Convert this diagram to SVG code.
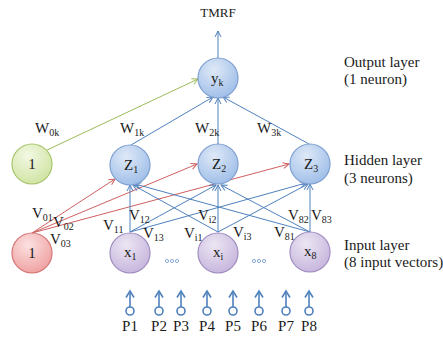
<svg xmlns="http://www.w3.org/2000/svg" width="443" height="341" viewBox="0 0 443 341" font-family="'Liberation Serif','Times New Roman','DejaVu Serif',serif">
<defs>
<radialGradient id="gb" cx="0.4" cy="0.3" r="0.75"><stop offset="0" stop-color="#dfe9f7"/><stop offset="1" stop-color="#9dbde8"/></radialGradient>
<radialGradient id="gg" cx="0.4" cy="0.3" r="0.75"><stop offset="0" stop-color="#f2f8e4"/><stop offset="1" stop-color="#cfe3a0"/></radialGradient>
<radialGradient id="gr" cx="0.4" cy="0.3" r="0.75"><stop offset="0" stop-color="#fbe1e1"/><stop offset="1" stop-color="#ef9f9f"/></radialGradient>
<radialGradient id="gp" cx="0.4" cy="0.3" r="0.75"><stop offset="0" stop-color="#ece6f3"/><stop offset="1" stop-color="#c5b4dc"/></radialGradient>
<marker id="ab" markerWidth="8" markerHeight="8" refX="7" refY="4" orient="auto" markerUnits="userSpaceOnUse"><path d="M1,1 L7,4 L1,7" fill="none" stroke="#4f81bd" stroke-width="1"/></marker>
<marker id="ar" markerWidth="8" markerHeight="8" refX="7" refY="4" orient="auto" markerUnits="userSpaceOnUse"><path d="M1,1 L7,4 L1,7" fill="none" stroke="#d06060" stroke-width="1"/></marker>
<marker id="ag" markerWidth="8" markerHeight="8" refX="7" refY="4" orient="auto" markerUnits="userSpaceOnUse"><path d="M1,1 L7,4 L1,7" fill="none" stroke="#9bbb59" stroke-width="1"/></marker>
<marker id="ap" markerWidth="10" markerHeight="10" refX="8" refY="5" orient="auto" markerUnits="userSpaceOnUse"><path d="M1.5,1 L8,5 L1.5,9" fill="none" stroke="#4f81bd" stroke-width="1.6"/></marker>
</defs>
<style>
text{font-family:"Liberation Serif","Times New Roman","DejaVu Serif",serif;fill:#1a1a1a}
.t{font-size:15px}
.s{font-size:10px}
.c{text-anchor:middle}
.nb{fill:url(#gb);stroke:#7f9fd0;stroke-width:1.2}
.ng{fill:url(#gg);stroke:#a8c46c;stroke-width:1.2}
.nr{fill:url(#gr);stroke:#d47575;stroke-width:1.2}
.np{fill:url(#gp);stroke:#a08cc0;stroke-width:1.2}
.lb{stroke:#4f81bd;stroke-width:1;fill:none;marker-end:url(#ab)}
.lr{stroke:#d06060;stroke-width:1;fill:none;marker-end:url(#ar)}
.lg{stroke:#9bbb59;stroke-width:1;fill:none;marker-end:url(#ag)}
.pin{stroke:#4f81bd;stroke-width:1.6;fill:none;marker-end:url(#ap)}
.pc{fill:#fff;stroke:#4f81bd;stroke-width:1.6}
</style>
<g id="connectors">
<line class="lb" x1="218" y1="58" x2="218" y2="31"/>
<line class="lg" x1="47" y1="150" x2="198" y2="79"/>
<line class="lb" x1="131" y1="145" x2="213" y2="97"/>
<line class="lb" x1="218" y1="145" x2="218" y2="98"/>
<line class="lb" x1="309" y1="144" x2="223" y2="97"/>
<line class="lr" x1="32" y1="233" x2="115" y2="179"/>
<line class="lr" x1="32" y1="233" x2="197" y2="164"/>
<line class="lr" x1="32" y1="233" x2="289" y2="164"/>
<line class="lb" x1="130" y1="232" x2="130" y2="185"/>
<line class="lb" x1="130" y1="232" x2="216" y2="185"/>
<line class="lb" x1="130" y1="232" x2="306" y2="183"/>
<line class="lb" x1="218" y1="232" x2="133" y2="185"/>
<line class="lb" x1="218" y1="232" x2="218" y2="185"/>
<line class="lb" x1="218" y1="232" x2="308" y2="184"/>
<line class="lb" x1="310" y1="232" x2="135" y2="184"/>
<line class="lb" x1="310" y1="232" x2="221" y2="185"/>
<line class="lb" x1="310" y1="232" x2="310" y2="184"/>
</g>
<g id="inputs-P">
<g id="P1"><line class="pin" x1="130" y1="307" x2="130" y2="291"/><circle class="pc" cx="130" cy="311" r="4"/><text class="t c" x="130" y="331">P1</text></g>
<g id="P2"><line class="pin" x1="159" y1="307" x2="159" y2="291"/><circle class="pc" cx="159" cy="311" r="4"/><text class="t c" x="159" y="331">P2</text></g>
<g id="P3"><line class="pin" x1="181" y1="307" x2="181" y2="291"/><circle class="pc" cx="181" cy="311" r="4"/><text class="t c" x="181" y="331">P3</text></g>
<g id="P4"><line class="pin" x1="207" y1="307" x2="207" y2="291"/><circle class="pc" cx="207" cy="311" r="4"/><text class="t c" x="207" y="331">P4</text></g>
<g id="P5"><line class="pin" x1="233" y1="307" x2="233" y2="291"/><circle class="pc" cx="233" cy="311" r="4"/><text class="t c" x="233" y="331">P5</text></g>
<g id="P6"><line class="pin" x1="259" y1="307" x2="259" y2="291"/><circle class="pc" cx="259" cy="311" r="4"/><text class="t c" x="259" y="331">P6</text></g>
<g id="P7"><line class="pin" x1="286" y1="307" x2="286" y2="291"/><circle class="pc" cx="286" cy="311" r="4"/><text class="t c" x="286" y="331">P7</text></g>
<g id="P8"><line class="pin" x1="309" y1="307" x2="309" y2="291"/><circle class="pc" cx="309" cy="311" r="4"/><text class="t c" x="309" y="331">P8</text></g>
</g>
<g id="yk"><circle class="nb" cx="218" cy="78" r="20"/><text class="t" x="211" y="83">y<tspan class="s" dy="3">k</tspan></text></g>
<g id="bias-hidden"><circle class="ng" cx="32" cy="164" r="20"/><text class="t c" x="32" y="169">1</text></g>
<g id="Z1"><circle class="nb" cx="130" cy="165" r="20"/><text class="t" x="124" y="170">Z<tspan class="s" dy="3">1</tspan></text></g>
<g id="Z2"><circle class="nb" cx="218" cy="164" r="20"/><text class="t" x="212" y="169">Z<tspan class="s" dy="3">2</tspan></text></g>
<g id="Z3"><circle class="nb" cx="310" cy="164" r="20"/><text class="t" x="304" y="169">Z<tspan class="s" dy="3">3</tspan></text></g>
<g id="bias-input"><circle class="nr" cx="32" cy="253" r="20"/><text class="t c" x="32" y="258">1</text></g>
<g id="x1"><circle class="np" cx="130" cy="253" r="20"/><text class="t" x="124" y="257">x<tspan class="s" dy="3">1</tspan></text></g>
<g id="xi"><circle class="np" cx="218" cy="253" r="20"/><text class="t" x="213" y="257">x<tspan class="s" dy="3">i</tspan></text></g>
<g id="x8"><circle class="np" cx="310" cy="252" r="20"/><text class="t" x="304" y="256">x<tspan class="s" dy="3">8</tspan></text></g>
<g id="dots">
<circle cx="167" cy="261" r="1.6" fill="none" stroke="#7f9fd0" stroke-width="0.9"/><circle cx="172" cy="261" r="1.6" fill="none" stroke="#7f9fd0" stroke-width="0.9"/><circle cx="177" cy="261" r="1.6" fill="none" stroke="#7f9fd0" stroke-width="0.9"/>
<circle cx="254" cy="261" r="1.6" fill="none" stroke="#7f9fd0" stroke-width="0.9"/><circle cx="259" cy="261" r="1.6" fill="none" stroke="#7f9fd0" stroke-width="0.9"/><circle cx="264" cy="261" r="1.6" fill="none" stroke="#7f9fd0" stroke-width="0.9"/>
</g>
<g id="labels">
<text class="c" style="font-size:13px" x="218" y="17">TMRF</text>
<text class="t" x="344" y="67">Output layer</text>
<text class="t" x="344" y="84">(1 neuron)</text>
<text class="t" x="344" y="165">Hidden layer</text>
<text class="t" x="344" y="183">(3 neurons)</text>
<text class="t" x="344" y="250">Input layer</text>
<text class="t" x="344" y="267">(8 input vectors)</text>
<text class="t" x="35" y="133">W<tspan class="s" dy="3">0k</tspan></text>
<text class="t" x="120" y="133">W<tspan class="s" dy="3">1k</tspan></text>
<text class="t" x="195" y="133">W<tspan class="s" dy="3">2k</tspan></text>
<text class="t" x="257" y="133">W<tspan class="s" dy="3">3k</tspan></text>
<text class="t" x="32" y="218">V<tspan class="s" dy="3">01</tspan></text>
<text class="t" x="53" y="227">V<tspan class="s" dy="3">02</tspan></text>
<text class="t" x="50" y="244">V<tspan class="s" dy="3">03</tspan></text>
<text class="t" x="103" y="230">V<tspan class="s" dy="3">11</tspan></text>
<text class="t" x="129" y="220">V<tspan class="s" dy="3">12</tspan></text>
<text class="t" x="143" y="238">V<tspan class="s" dy="3">13</tspan></text>
<text class="t" x="184" y="238">V<tspan class="s" dy="3">i1</tspan></text>
<text class="t" x="198" y="220">V<tspan class="s" dy="3">i2</tspan></text>
<text class="t" x="233" y="237">V<tspan class="s" dy="3">i3</tspan></text>
<text class="t" x="274" y="237">V<tspan class="s" dy="3">81</tspan></text>
<text class="t" x="288" y="220">V<tspan class="s" dy="3">82</tspan></text>
<text class="t" x="311" y="220">V<tspan class="s" dy="3">83</tspan></text>
</g>
</svg>
